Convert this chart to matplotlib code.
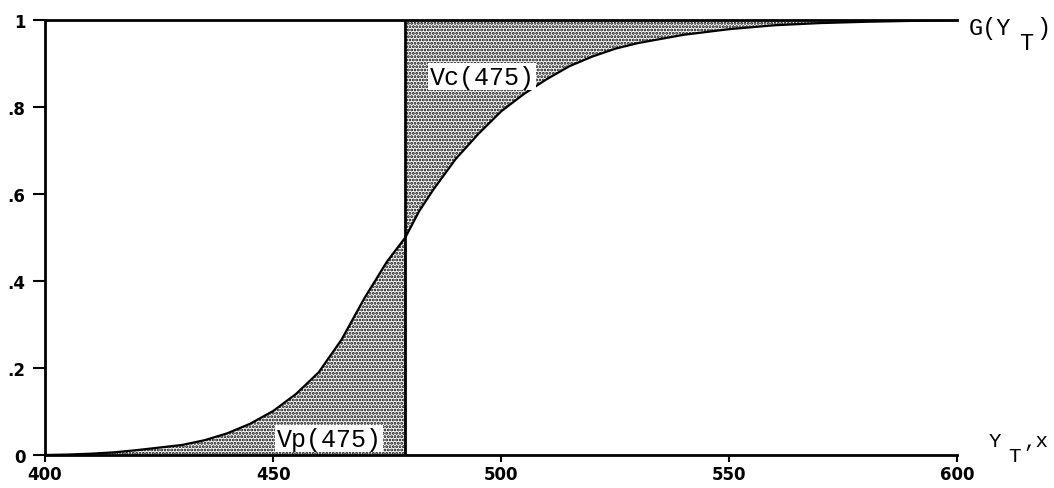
import numpy as np
import matplotlib
matplotlib.use("Agg")
import matplotlib.pyplot as plt

yt = np.array([400, 405, 410, 415, 420, 425, 430, 435, 440, 445, 450, 455,
               460, 465, 470, 475, 479, 482, 485, 490, 495, 500, 505, 510,
               515, 520, 525, 530, 540, 550, 560, 570, 580, 590, 600])
g = np.array([0.0, 0.001, 0.003, 0.006, 0.011, 0.017, 0.023, 0.034, 0.05,
              0.072, 0.101, 0.14, 0.19, 0.265, 0.36, 0.445, 0.50, 0.56,
              0.608, 0.68, 0.738, 0.79, 0.83, 0.864, 0.894, 0.916, 0.934,
              0.947, 0.966, 0.979, 0.988, 0.993, 0.996, 0.998, 1.0])
cutoff = 479
x_ticks = [400, 450, 500, 550, 600]
y_ticks = [0, 0.2, 0.4, 0.6, 0.8, 1.0]
y_tick_labels = ["0", ".2", ".4", ".6", ".8", "1"]

plt.rcParams["hatch.linewidth"] = 1.4

fig = plt.figure(figsize=(10.54, 4.89), dpi=100)
ax = fig.add_axes([0.0427, 0.0675, 0.8655, 0.8895])

low = yt <= cutoff
high = yt >= cutoff
ax.fill_between(yt[low], 0, g[low], facecolor="white", edgecolor="black",
                hatch=".....", linewidth=0)
ax.fill_between(yt[high], g[high], 1, facecolor="white", edgecolor="black",
                hatch=".....", linewidth=0)

ax.plot(yt, g, color="black", lw=1.6)
ax.plot([400, 600], [1, 1], color="black", lw=2, clip_on=False)
ax.plot([cutoff, cutoff], [0, 1], color="black", lw=2)

ax.set_xlim(400, 600)
ax.set_ylim(0, 1)
for side in ["top", "right"]:
    ax.spines[side].set_visible(False)
for side in ["left", "bottom"]:
    ax.spines[side].set_linewidth(2)

ax.set_xticks(x_ticks)
ax.set_yticks(y_ticks)
ax.set_yticklabels(y_tick_labels)
ax.tick_params(axis="y", length=9, width=1.5, pad=5)
ax.tick_params(axis="x", length=5, width=1.5, pad=2)
for lab in ax.get_xticklabels() + ax.get_yticklabels():
    lab.set_fontweight("bold")
    lab.set_fontsize(12)

mono = "Liberation Mono"
box = dict(facecolor="white", edgecolor="none", pad=1)
ax.text(484.3, 0.87, "Vc(475)", family=mono, fontsize=18, va="center",
        ha="left", bbox=box)
ax.text(450.8, 0.037, "Vp(475)", family=mono, fontsize=18, va="center",
        ha="left", bbox=box)


def label_with_sub(x, y, parts, size):
    """Writes text pieces with offsets (points) so the subscript sits low"""
    for txt, dx, dy in parts:
        ax.annotate(txt, (x, y), xytext=(dx, dy), textcoords="offset points",
                    family=mono, fontsize=size, va="baseline", ha="left",
                    annotation_clip=False)


label_with_sub(602.6, 0.968, [("G(Y", 0, 0), ("T", 36, -10.8), (")", 48, 0)], 17)
label_with_sub(607.0, 0.021, [("Y", 0, 0), ("T", 13.5, -10.8), (",x", 24.5, 0)], 15)

fig.savefig("out.png", dpi=100)
